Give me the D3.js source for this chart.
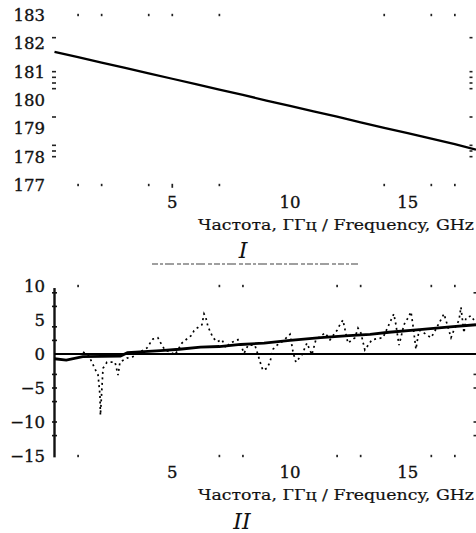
<!DOCTYPE html>
<html><head><meta charset="utf-8">
<script src="https://cdn.jsdelivr.net/npm/d3@7"></script>
<style>body{margin:0;background:#fff}svg{display:block}</style>
</head><body>
<script>
// ---- Chart I data ----
const freqI = [0, 1, 2, 3, 4, 5, 6, 7, 8, 9, 10, 11, 12, 13, 14, 15, 16, 17, 17.9];
const valI  = [181.7, 181.51, 181.32, 181.13, 180.94, 180.75, 180.56, 180.37, 180.18, 179.98, 179.79, 179.6, 179.41, 179.21, 179.02, 178.83, 178.64, 178.44, 178.25];
const yTicksI = [183, 182, 181, 180, 179, 178, 177];
const frameTicksI = [1, 2, 4, 5, 7, 14, 16, 17];
const sideTicksI = [182.2, 181.0, 180.8, 180.6, 180.4, 179.4, 178.4, 178.2, 178.0];

// ---- Chart II data ----
const trendFreqII = [0, 0.5, 1.2, 2.8, 3.1, 4.5, 5.3, 6.2, 7.0, 7.9, 8.9, 10.0, 11.3, 12.5, 13.4, 14.2, 15.5, 16.8, 17.9];
const trendValII  = [-0.7, -0.9, -0.4, -0.3, 0.2, 0.5, 0.7, 1.0, 1.1, 1.4, 1.6, 2.0, 2.4, 2.7, 2.9, 3.2, 3.6, 4.0, 4.3];
const noiseFreqII = [1.21,1.42,1.59,1.72,1.85,1.93,1.95,2.06,2.23,2.57,2.70,2.78,3.08,3.33,3.63,3.93,4.06,4.18,4.39,4.56,4.69,4.90,5.12,5.41,5.58,5.84,5.92,6.05,6.26,6.35,6.43,6.52,6.73,6.90,7.11,7.28,7.45,7.79,7.96,8.05,8.22,8.51,8.64,8.77,8.85,9.02,9.15,9.28,9.45,9.70,10.0,10.13,10.25,10.51,10.72,10.93,11.1,11.49,11.70,12.0,12.12,12.25,12.46,12.76,12.89,13.01,13.18,13.48,13.95,14.41,14.5,14.63,14.71,14.84,15.01,15.14,15.22,15.35,15.48,15.69,15.99,16.11,16.54,16.62,16.84,16.96,17.18,17.26,17.39,17.47,17.69,17.81];
const noiseValII  = [0.3,-0.1,-1.2,-2.2,-3.1,-6.0,-9.0,-2.1,-1.2,-1.2,-3.1,-1.2,-0.6,-0.4,0.3,0.9,1.6,2.2,2.4,1.3,0.6,0.3,-0.1,1.6,2.1,2.8,3.4,3.8,4.3,5.9,5.3,4.0,2.4,1.8,2.1,0.9,1.6,2.1,0.9,0.1,1.3,1.3,-0.1,-1.6,-2.4,-2.1,-1.2,0.7,1.3,1.9,2.9,0.3,-1.2,-0.1,1.6,-0.1,2.1,3.1,2.1,3.5,4.3,5.0,1.6,2.4,3.8,3.1,0.6,2.1,2.4,5.9,4.3,1.3,2.4,4.3,5.3,6.2,4.3,0.7,3.5,3.1,2.4,3.1,5.9,5.0,2.4,3.5,5.0,6.9,3.1,5.3,5.6,5.0];
const yTicksII = [10, 5, 0, -5, -10, -15];
const xTicks = [5, 10, 15];
const frameTicksII = [1, 7, 8, 12, 13, 16, 17];
const leftTicksII = [9, 7, 4, 2, -3, -5, -7, -10, -12];
const rightTicksII = [9, -3, -5, -10, -12];
const xTitle = "Частота, ГГц / Frequency, GHz";

const W = 476, H = 533;
const FONT = "'DejaVu Serif', 'Liberation Serif', serif";
const svg = d3.select("body").append("svg").attr("width", W).attr("height", H)
  .style("font-family", FONT);

const x = d3.scaleLinear().domain([0, 17.9]).range([54.5, 476]);

function label(g, sel) {
  return sel.attr("fill", "#111").attr("stroke", "#111").attr("stroke-width", 0.35);
}

// ================= Chart I =================
const yI = d3.scaleLinear().domain([177, 183]).range([185, 15]);
const gI = svg.append("g");

label(gI, gI.selectAll("text.yl").data(yTicksI).join("text")
  .attr("x", 45).attr("y", d => yI(d)).attr("dy", "0.36em")
  .attr("text-anchor", "end").attr("font-size", 16.5))
  .text(d => d);

// frame dots top & bottom
[183, 177].forEach(v => {
  gI.selectAll(null).data(frameTicksI).join("rect")
    .attr("x", d => x(d) - 0.8).attr("y", yI(v) - 1.2).attr("width", 1.7).attr("height", d => d === 5 && v === 177 ? 4 : 2.4)
    .attr("fill", "#222");
});
// side ticks
[[54, 4], [471, 3]].forEach(([sx, w]) => {
  gI.selectAll(null).data(sideTicksI).join("rect")
    .attr("x", sx - w / 2).attr("y", d => yI(d) - 0.8).attr("width", w).attr("height", 1.6)
    .attr("fill", "#222");
});

const lineI = d3.line().x((d, i) => x(freqI[i])).y(d => yI(d));
gI.append("path").datum(valI).attr("d", lineI)
  .attr("fill", "none").attr("stroke", "#000").attr("stroke-width", 2.3);

label(gI, gI.selectAll("text.xl").data(xTicks).join("text")
  .attr("x", d => x(d)).attr("y", 202).attr("dy", "0.36em")
  .attr("text-anchor", "middle").attr("font-size", 16.5))
  .text(d => d);

gI.append("text").attr("x", 474).attr("y", 225).attr("dy", "0.36em")
  .attr("text-anchor", "end").attr("font-size", 14.5).attr("fill", "#111")
  .attr("stroke", "#111").attr("stroke-width", 0.2)
  .attr("textLength", 276).attr("lengthAdjust", "spacingAndGlyphs")
  .text(xTitle);

svg.append("text").attr("x", 243).attr("y", 250).attr("dy", "0.36em")
  .attr("text-anchor", "middle").attr("font-size", 22).attr("font-style", "italic").attr("fill", "#111")
  .text("I");

// scan artifact line
svg.append("line").attr("x1", 152).attr("x2", 358).attr("y1", 264).attr("y2", 264)
  .attr("stroke", "#555").attr("stroke-width", 1.6).attr("stroke-dasharray", "6,2,3,2,9,3,4,2").attr("opacity", 0.75);

// ================= Chart II =================
const yII = d3.scaleLinear().domain([-15, 10]).range([456, 286]);
const gII = svg.append("g");

label(gII, gII.selectAll("text.yl").data(yTicksII).join("text")
  .attr("x", 45).attr("y", d => yII(d)).attr("dy", "0.36em")
  .attr("text-anchor", "end").attr("font-size", 16.5))
  .text(d => d < 0 ? "\u2212" + Math.abs(d) : d);

// left axis line
gII.append("line").attr("x1", x(0)).attr("x2", x(0)).attr("y1", yII(9.7)).attr("y2", yII(-15.2))
  .attr("stroke", "#111").attr("stroke-width", 2.4);
gII.selectAll(null).data(leftTicksII).join("rect")
  .attr("x", x(0) - 2.5).attr("y", d => yII(d) - 0.8).attr("width", 5).attr("height", 1.6).attr("fill", "#111");
gII.selectAll(null).data(rightTicksII).join("rect")
  .attr("x", 473.5).attr("y", d => yII(d) - 0.8).attr("width", 2.5).attr("height", 1.6).attr("fill", "#222");
[10, -15].forEach(v => {
  gII.selectAll(null).data(frameTicksII).join("rect")
    .attr("x", d => x(d) - 0.8).attr("y", yII(v) - 1.2).attr("width", 1.7).attr("height", 2.4)
    .attr("fill", "#222");
});

// zero line
gII.append("line").attr("x1", x(0)).attr("x2", 476).attr("y1", yII(0)).attr("y2", yII(0))
  .attr("stroke", "#000").attr("stroke-width", 2);

// noisy dotted series
const lineN = d3.line().x((d, i) => x(noiseFreqII[i])).y(d => yII(d));
gII.append("path").datum(noiseValII).attr("d", lineN)
  .attr("fill", "none").attr("stroke", "#000").attr("stroke-width", 1.7)
  .attr("stroke-dasharray", "2,3.5");

// trend
const lineT = d3.line().x((d, i) => x(trendFreqII[i])).y(d => yII(d));
gII.append("path").datum(trendValII).attr("d", lineT)
  .attr("fill", "none").attr("stroke", "#000").attr("stroke-width", 2.8);

label(gII, gII.selectAll("text.xl").data(xTicks).join("text")
  .attr("x", d => x(d)).attr("y", 472).attr("dy", "0.36em")
  .attr("text-anchor", "middle").attr("font-size", 16.5))
  .text(d => d);

gII.append("text").attr("x", 474).attr("y", 495).attr("dy", "0.36em")
  .attr("text-anchor", "end").attr("font-size", 14.5).attr("fill", "#111")
  .attr("stroke", "#111").attr("stroke-width", 0.2)
  .attr("textLength", 276).attr("lengthAdjust", "spacingAndGlyphs")
  .text(xTitle);

svg.append("text").attr("x", 242).attr("y", 521).attr("dy", "0.36em")
  .attr("text-anchor", "middle").attr("font-size", 22).attr("font-style", "italic").attr("fill", "#111")
  .text("II");
</script>
</body></html>
